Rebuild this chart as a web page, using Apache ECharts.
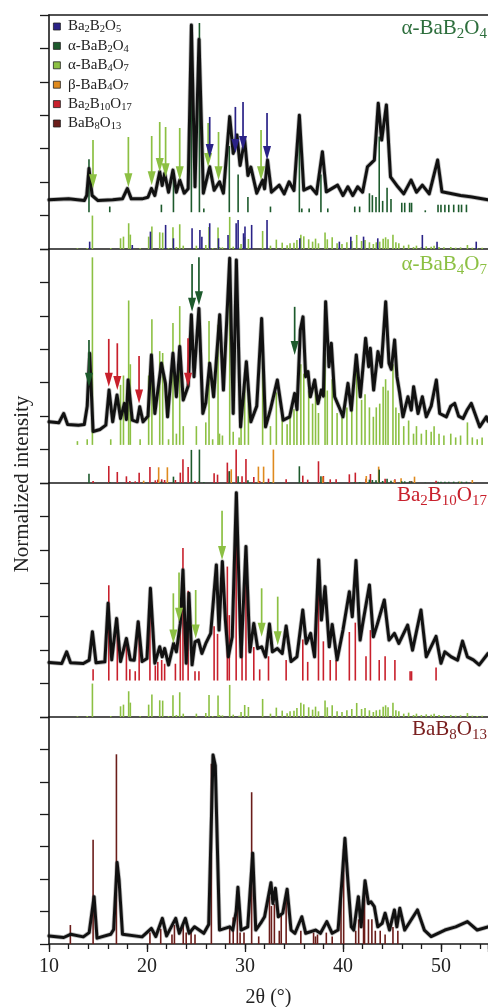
<!DOCTYPE html>
<html>
<head>
<meta charset="utf-8">
<script src="https://cdn.jsdelivr.net/npm/echarts@6.0.0/dist/echarts.min.js"></script>
<style>
  html, body { margin: 0; padding: 0; background: #fff; }
  #chart { width: 488px; height: 1007px; }
</style>
</head>
<body>
<div id="chart"></div>
<script>
// measured patterns, [2theta, intensity] on a 0..7 panel scale
const pattern1 = [[10,1.47],[12.0,1.5],[13.6,1.45],[13.85,1.6],[14.08,2.41],[14.4,1.6],[15.0,1.45],[16.5,1.47],[17.5,1.5],[18.0,1.81],[18.4,1.5],[19.5,1.5],[20.1,1.55],[20.45,1.81],[20.8,1.6],[21.3,2.31],[21.55,1.9],[21.8,2.26],[22.2,1.7],[22.65,2.36],[23.0,1.7],[23.35,2.06],[23.8,1.67],[24.2,1.8],[24.53,6.7],[24.9,1.86],[25.31,6.27],[25.75,1.67],[26.4,2.46],[26.85,1.76],[27.4,2.01],[27.8,1.67],[28.44,3.96],[28.8,2.86],[29.18,3.41],[29.5,2.5],[29.97,3.26],[30.3,2.2],[30.6,2.45],[31.2,1.67],[31.8,2.06],[32.0,1.8],[32.3,2.66],[32.7,1.7],[33.5,1.91],[34.0,1.65],[34.5,2.01],[35.0,1.75],[35.55,4.0],[36.0,1.76],[36.7,1.86],[37.3,1.65],[37.9,2.91],[38.3,1.71],[39.45,1.91],[40.0,1.6],[40.5,1.86],[41.0,1.6],[41.5,1.86],[42.0,1.7],[42.5,2.46],[43.2,2.66],[43.6,4.36],[43.95,3.26],[44.43,4.31],[44.85,2.16],[45.6,1.86],[46.2,1.65],[46.95,2.06],[47.5,1.7],[48.1,1.91],[48.8,1.65],[49.66,2.66],[50.1,1.71],[51.0,1.66],[52.0,1.6],[53.0,1.56],[54.8,1.47]];
const pattern2 = [[10,1.83],[11.0,1.8],[11.5,2.08],[11.9,1.75],[13.0,1.73],[13.6,1.75],[13.9,2.3],[14.15,3.88],[14.5,1.54],[15.2,1.6],[15.8,1.73],[16.13,2.78],[16.5,1.83],[16.94,2.63],[17.3,1.93],[17.7,2.38],[17.9,1.9],[18.07,3.08],[18.5,1.88],[19.0,1.83],[19.26,2.28],[19.6,1.83],[20.1,2.0],[20.45,3.83],[20.8,2.08],[21.47,3.58],[21.88,2.98],[22.1,1.98],[22.65,3.88],[23.0,2.58],[23.34,4.08],[23.7,2.48],[24.2,2.9],[24.53,5.03],[24.8,3.18],[25.3,5.22],[25.7,2.08],[26.0,2.4],[26.4,3.58],[26.8,2.58],[27.42,5.03],[27.8,2.78],[28.44,6.72],[28.8,2.08],[29.12,6.67],[29.55,1.68],[30.14,3.63],[30.6,1.83],[31.2,2.3],[31.7,4.92],[32.1,1.68],[32.6,2.2],[33.3,3.08],[33.9,1.88],[34.56,1.98],[35.07,2.68],[35.31,2.2],[35.65,4.58],[35.92,4.97],[36.19,3.18],[36.43,3.33],[36.67,2.58],[37.11,3.08],[37.45,2.38],[37.79,2.78],[38.0,2.6],[38.23,5.42],[38.57,3.48],[38.81,4.18],[39.15,2.58],[39.59,2.28],[40.0,1.98],[40.51,2.98],[40.85,2.18],[41.36,3.83],[41.77,2.58],[42.31,4.33],[42.62,3.48],[42.79,4.03],[43.13,2.78],[43.57,3.93],[43.91,3.48],[44.36,5.42],[44.7,3.58],[44.93,3.4],[45.27,4.28],[45.51,3.18],[45.78,2.7],[46.12,1.98],[46.63,2.58],[46.97,2.18],[47.21,2.88],[47.66,2.08],[48.1,2.58],[48.5,1.98],[49.0,2.3],[49.53,3.08],[49.87,2.08],[50.55,1.98],[51.0,2.3],[51.4,2.38],[51.8,2.0],[52.25,1.93],[52.7,2.2],[53.1,2.38],[53.95,1.68],[54.63,1.98],[54.8,1.85]];
const pattern3 = [[10,1.63],[11.3,1.6],[11.8,1.95],[12.2,1.62],[13.5,1.6],[14.1,1.7],[14.43,2.55],[14.8,1.62],[15.7,1.65],[16.03,3.4],[16.4,1.71],[16.9,2.95],[17.3,1.66],[17.9,2.35],[18.3,1.71],[18.7,1.7],[19.1,2.85],[19.5,1.66],[20.0,1.75],[20.35,3.85],[20.8,1.61],[21.3,2.1],[21.55,1.8],[21.8,2.05],[22.2,1.56],[22.72,2.2],[23.0,1.95],[23.4,2.8],[23.67,4.4],[24.0,1.61],[24.28,3.7],[24.6,1.56],[24.9,2.25],[25.25,2.3],[25.6,1.9],[26.0,2.2],[26.5,2.5],[27.08,4.55],[27.35,2.6],[27.69,4.65],[28.0,2.9],[28.3,1.8],[28.7,2.4],[29.12,6.71],[29.6,1.8],[30.1,5.1],[30.5,1.95],[30.9,2.8],[31.3,2.05],[31.7,2.1],[32.1,1.8],[32.5,2.78],[32.8,1.95],[33.3,2.05],[33.8,1.9],[34.2,2.72],[34.7,1.66],[35.3,1.8],[35.9,3.2],[36.25,2.2],[36.7,2.5],[37.1,1.8],[37.52,4.7],[37.8,2.9],[38.17,3.9],[38.6,2.1],[38.9,2.77],[39.4,1.71],[40.0,2.6],[40.65,3.75],[40.95,3.0],[41.33,4.68],[41.75,2.3],[42.0,2.77],[42.7,3.95],[43.1,2.4],[43.5,2.77],[44.22,3.5],[44.7,2.3],[45.25,2.5],[45.7,2.2],[46.6,2.75],[47.1,2.0],[47.96,3.2],[48.5,1.8],[49.5,2.41],[50.0,1.61],[50.4,1.95],[51.05,1.8],[51.7,1.7],[52.2,2.27],[52.7,1.8],[53.3,1.71],[53.9,1.56],[54.8,1.9]];
const pattern4 = [[10,0.25],[11.5,0.2],[12.2,0.3],[13.5,0.22],[14.1,0.35],[14.6,1.46],[14.9,0.18],[16.3,0.3],[16.6,0.45],[16.95,2.51],[17.15,1.97],[17.5,0.3],[19.5,0.22],[20.45,0.48],[20.9,0.23],[21.57,0.79],[22.0,0.25],[22.93,0.79],[23.3,0.33],[23.92,0.79],[24.3,0.33],[24.85,0.53],[25.8,0.33],[26.3,0.6],[26.74,5.83],[26.97,5.5],[27.4,0.43],[28.44,0.53],[28.75,0.43],[29.1,1.0],[29.28,1.75],[29.6,0.43],[30.28,0.53],[30.79,2.8],[31.1,0.43],[31.6,0.64],[32.0,0.84],[32.65,1.89],[32.85,1.25],[33.1,1.72],[33.4,0.84],[33.85,0.95],[34.05,0.95],[34.3,1.69],[34.7,0.43],[35.1,0.33],[35.8,0.84],[36.2,0.33],[37.2,0.43],[37.7,0.33],[38.35,0.69],[38.9,0.33],[39.5,0.43],[39.9,1.97],[40.2,3.26],[40.5,1.95],[40.85,0.53],[41.1,0.43],[41.57,1.46],[41.85,0.53],[42.25,1.95],[42.6,1.25],[42.86,1.3],[43.2,1.15],[43.55,0.53],[44.0,0.64],[44.3,0.95],[44.75,0.43],[45.25,1.05],[45.5,0.53],[45.8,1.1],[46.3,0.43],[46.95,0.74],[47.6,1.05],[48.3,0.43],[49.0,0.23],[49.7,0.33],[50.4,0.43],[51.5,0.53],[52.7,0.69],[53.7,0.43],[54.8,0.53]];

// reference sticks, [2theta, relative intensity %]
const ba2b2o5Ref = [[14.15,22],[18.5,12],[20.35,52],[21.9,72],[22.7,32],[24.6,62],[25.4,57],[25.6,37],[26.4,77],[27.3,32],[28.27,42],[29.1,77],[29.3,87],[29.85,47],[30.0,67],[30.68,72],[32.25,87],[35.6,32],[39.63,22],[40.8,37],[42.1,37],[43.55,32],[48.1,42],[49.6,22],[53.6,22]];
const aBaB2O4Ref = [[14.08,28],[16.2,3],[21.47,4],[22.7,19],[24.53,99],[25.35,100],[25.8,2],[28.4,35],[29.3,20],[30.3,8],[32.6,3],[35.55,50],[35.8,2],[36.55,2],[37.75,20],[38.45,2],[41.2,3],[41.7,3],[42.7,10],[43.0,9],[43.37,8],[43.7,40],[44.05,6],[44.5,13],[44.9,7],[46.0,5],[46.3,5],[46.8,5],[47.0,5],[48.4,1],[49.7,4],[50.0,4],[50.4,4],[50.8,4],[51.3,4],[51.8,4],[52.1,4],[52.6,4]];
const aBaB4O7Ref = [[12.9,2],[13.9,3],[14.43,100],[16.3,3],[17.3,32],[17.6,37],[18.13,77],[18.3,43],[19.3,3],[20.17,37],[20.5,67],[21.3,50],[21.6,49],[22.2,3],[22.65,65],[23.0,6],[23.34,74],[23.7,10],[25.04,10],[26.0,12],[26.33,66],[26.7,3],[27.25,64],[27.4,6],[27.7,5],[28.44,96],[28.8,7],[29.4,4],[29.6,15],[29.97,36],[30.35,30],[31.8,54],[32.6,10],[33.2,28],[33.8,19],[34.3,11],[34.6,17],[35.0,19],[35.3,27],[35.7,43],[36.0,38],[36.5,29],[36.9,22],[37.2,31],[37.5,17],[38.17,49],[38.4,29],[38.9,35],[39.4,17],[39.9,15],[40.4,20],[40.9,24],[41.4,42],[41.9,24],[42.25,27],[42.7,20],[43.1,15],[43.4,20],[43.75,22],[44.1,31],[44.35,35],[44.6,29],[45.1,43],[45.4,20],[45.7,17],[46.2,10],[46.7,13],[47.2,6],[47.5,10],[48.0,6],[48.5,8],[49.0,7],[49.3,10],[49.8,6],[50.3,5],[51.0,6],[51.5,4],[52.0,5],[52.7,12],[53.2,4],[53.7,3],[54.2,4]];
const bBaB4O7Ref = [[19.66,7],[21.19,47],[22.08,47],[28.6,41],[31.37,49],[31.9,49],[32.9,100],[37.93,19],[42.38,21],[43.64,49],[45.25,9],[45.93,14],[47.3,19],[51.9,4],[53.2,9]];
const ba2b10o17Ref = [[14.5,6],[16.1,51],[16.97,33],[17.9,20],[18.25,6],[18.8,5],[19.2,31],[20.3,48],[20.85,8],[21.1,10],[21.5,11],[21.8,9],[22.9,9],[23.4,31],[23.67,71],[24.2,48],[24.9,5],[25.3,5],[26.85,29],[27.2,25],[28.2,61],[28.4,35],[29.1,100],[29.7,20],[30.1,72],[30.9,18],[31.5,6],[32.4,13],[34.2,11],[35.9,22],[36.4,10],[37.5,65],[38.0,21],[38.7,11],[39.3,11],[40.65,26],[41.26,31],[42.35,13],[42.8,27],[43.7,11],[44.3,13],[45.3,11],[46.85,5],[47.0,5],[49.5,7]];
const bab8o13Ref = [[12.18,10],[14.5,55],[16.88,100],[20.3,6],[21.4,8],[22.55,5],[22.8,10],[23.7,10],[24.0,6],[24.5,7],[24.9,5],[26.57,95],[28.44,9],[28.8,14],[29.22,28],[29.5,6],[29.9,6],[30.68,80],[31.4,4],[32.5,25],[32.7,20],[33.0,21],[33.5,7],[33.7,16],[34.2,25],[35.7,7],[37.0,6],[37.2,4],[37.4,5],[38.3,6],[38.9,4],[39.8,30],[40.07,50],[41.3,7],[41.6,13],[42.1,24],[42.2,29],[42.6,13],[42.95,13],[43.3,7],[43.8,7],[44.3,5],[45.1,9],[45.6,7]];

// arrows, [2theta, tail, tip]
const arrowsP1Green = [[14.49,3.26,1.82],[18.1,3.35,1.85],[20.48,3.38,1.91],[21.3,3.8,2.3],[21.9,3.65,2.15],[23.34,3.62,2.06],[26.24,3.77,2.45],[27.3,3.5,2.06],[31.64,3.56,2.06]];
const arrowsP1Blue = [[26.4,3.95,2.72],[29.02,4.25,2.87],[29.8,4.4,2.96],[32.25,4.07,2.66]];
const arrowsP2DarkGreen = [[14.08,4.28,2.88],[24.6,6.55,5.12],[25.3,6.75,5.32],[35.07,5.27,3.83]];
const arrowsP2Red = [[16.1,4.31,2.88],[16.97,4.18,2.78],[19.19,3.8,2.38],[24.19,4.33,2.88]];
const arrowsP3Green = [[22.69,3.7,2.2],[23.27,4.32,2.85],[24.97,3.8,2.35],[27.66,6.17,4.7],[31.7,3.85,2.4],[33.34,3.6,2.15]];

const phases = ['Ba2B2O5', 'α-BaB2O4', 'α-BaB4O7', 'β-BaB4O7', 'Ba2B10O17', 'BaB8O13'];
const panelTitles = ['α-BaB2O4', 'α-BaB4O7', 'Ba2B10O17', 'BaB8O13'];

const FONT = 'Liberation Serif';
const colors = {
    'Ba2B2O5': '#2a2287',
    'α-BaB2O4': '#1d5a2c',
    'α-BaB4O7': '#8cc043',
    'β-BaB4O7': '#df8a1e',
    'Ba2B10O17': '#c8202c',
    'BaB8O13': '#6b1d1a'
};
const titleColors = ['#2d6e3c', '#8cc043', '#c8202c', '#7a2020'];
const titleTops = [15, 251, 482, 716];
const gridTops = [15, 249, 483, 717];
const gridHeights = [234, 234, 234, 227];

// chemical formula -> rich text with subscripts
function chem(name, n, s) {
    return name.replace(/(\d+)|(\D+)/g, (m, d, t) => d ? '{' + s + '|' + d + '}' : '{' + n + '|' + t + '}');
}

function sticks(name, ref, gi, base, scale) {
    let color = colors[name];
    return {
        name: name,
        type: 'custom',
        xAxisIndex: gi,
        yAxisIndex: gi,
        z: 2,
        itemStyle: {color: color},
        encode: {x: 0, y: [1, 2]},
        data: ref.map(r => [r[0], base, base + r[1] * scale / 100]),
        renderItem: (params, api) => {
            let p0 = api.coord([api.value(0), api.value(1)]);
            let p1 = api.coord([api.value(0), api.value(2)]);
            return {
                type: 'line',
                shape: {x1: p0[0], y1: p0[1], x2: p1[0], y2: p1[1]},
                style: {stroke: color, lineWidth: 1.6}
            };
        }
    };
}

function arrows(id, list, gi, color) {
    return {
        name: id,
        type: 'custom',
        xAxisIndex: gi,
        yAxisIndex: gi,
        z: 6,
        encode: {x: 0, y: [1, 2]},
        data: list,
        renderItem: (params, api) => {
            let a = api.coord([api.value(0), api.value(1)]);
            let b = api.coord([api.value(0), api.value(2)]);
            return {
                type: 'group',
                children: [
                    {type: 'line', shape: {x1: a[0], y1: a[1], x2: b[0], y2: b[1] - 10}, style: {stroke: color, lineWidth: 1.7}},
                    {type: 'polygon', shape: {points: [[b[0] - 4, b[1] - 14], [b[0] + 4, b[1] - 14], [b[0], b[1]]]}, style: {fill: color}}
                ]
            };
        }
    };
}

// noisy measured trace: soft grey halo under a black core
function curve(id, data, gi) {
    let base = {
        type: 'line',
        xAxisIndex: gi,
        yAxisIndex: gi,
        showSymbol: false,
        silent: true,
        data: data
    };
    return [
        Object.assign({}, base, {name: id + '-halo', z: 3, lineStyle: {color: 'rgba(40,40,40,0.3)', width: 4.6, join: 'round', cap: 'round'}}),
        Object.assign({}, base, {name: id, z: 4, lineStyle: {color: '#111', width: 3, join: 'round', cap: 'round'}})
    ];
}

const axisLine = {show: true, lineStyle: {color: '#1a1a1a', width: 1.6}};

let xAxes = [0, 1, 2, 3].map(i => ({
    gridIndex: i,
    type: 'value',
    min: 10,
    max: 54.8,
    interval: 10,
    axisLine: axisLine,
    axisTick: {show: i === 3, inside: false, length: 8, lineStyle: {color: '#1a1a1a', width: 1.3}},
    axisLabel: {
        show: i === 3,
        margin: 13,
        fontFamily: FONT,
        fontSize: 20,
        color: '#222',
        formatter: v => (v % 10 === 0 ? String(v) : '')
    },
    splitLine: {show: false},
    name: i === 3 ? '2θ (°)' : '',
    nameLocation: 'middle',
    nameGap: 44,
    nameTextStyle: {fontFamily: FONT, fontSize: 20, color: '#222'}
}));
// frame on top of the first panel
xAxes.push({
    gridIndex: 0, type: 'value', position: 'top', min: 10, max: 54.8,
    axisLine: axisLine, axisTick: {show: false}, axisLabel: {show: false}, splitLine: {show: false}
});
// minor ticks every 2 degrees
xAxes.push({
    gridIndex: 3, type: 'value', position: 'bottom', min: 10, max: 54.8, interval: 2,
    axisLine: {show: false},
    axisTick: {show: true, inside: false, length: 5, lineStyle: {color: '#1a1a1a', width: 1.3}},
    axisLabel: {show: false}, splitLine: {show: false}
});

let yAxes = [0, 1, 2, 3].map(i => ({
    gridIndex: i,
    type: 'value',
    min: 0,
    max: 7,
    interval: 1,
    axisLine: axisLine,
    axisTick: {show: true, inside: false, length: 9, lineStyle: {color: '#1a1a1a', width: 1.3}},
    axisLabel: {show: false},
    splitLine: {show: false}
}));

let option = {
    animation: false,
    backgroundColor: '#fff',
    grid: gridTops.map((t, i) => ({left: 49, right: 0, top: t, height: gridHeights[i], outerBoundsMode: 'none', containLabel: false})),
    xAxis: xAxes,
    yAxis: yAxes,
    title: panelTitles.map((t, i) => ({
        text: chem(t, 'n', 's'),
        right: 1,
        top: titleTops[i],
        padding: 0,
        textStyle: {
            fontWeight: 'normal',
            rich: {
                n: {fontFamily: FONT, fontWeight: 'normal', fontSize: 21, lineHeight: 27, color: titleColors[i]},
                s: {fontFamily: FONT, fontWeight: 'normal', fontSize: 15, lineHeight: 12, verticalAlign: 'bottom', color: titleColors[i]}
            }
        }
    })),
    legend: {
        orient: 'vertical',
        left: 53,
        top: 19,
        padding: 0,
        itemWidth: 7,
        itemHeight: 7,
        itemGap: 3.4,
        icon: 'rect',
        selectedMode: false,
        data: phases.map(p => ({name: p, itemStyle: {color: colors[p], borderColor: '#222', borderWidth: 0.8}})),
        formatter: name => '{g| }' + chem(name, 'n', 's'),
        textStyle: {
            rich: {
                g: {fontFamily: FONT, fontSize: 10, lineHeight: 17},
                n: {fontFamily: FONT, fontSize: 15, lineHeight: 17, color: '#222'},
                s: {fontFamily: FONT, fontSize: 10.5, lineHeight: 10, verticalAlign: 'bottom', color: '#222'}
            }
        }
    },
    graphic: [{
        type: 'text',
        x: 22,
        y: 484,
        rotation: Math.PI / 2,
        style: {text: 'Normalized intensity', fontFamily: FONT, fontSize: 21, fill: '#222', align: 'center', verticalAlign: 'middle'}
    }],
    series: [
        // panel 1
        sticks('α-BaB4O7', aBaB4O7Ref, 0, 0, 1),
        sticks('Ba2B2O5', ba2b2o5Ref, 0, 0, 1),
        sticks('α-BaB2O4', aBaB2O4Ref, 0, 1.1, 5.66),
        ...curve('p1', pattern1, 0),
        arrows('a1g', arrowsP1Green, 0, colors['α-BaB4O7']),
        arrows('a1b', arrowsP1Blue, 0, colors['Ba2B2O5']),
        // panel 2
        sticks('α-BaB4O7', aBaB4O7Ref, 1, 1.14, 5.61),
        sticks('Ba2B10O17', ba2b10o17Ref, 1, 0, 1),
        sticks('β-BaB4O7', bBaB4O7Ref, 1, 0, 1),
        sticks('α-BaB2O4', aBaB2O4Ref, 1, 0, 1),
        ...curve('p2', pattern2, 1),
        arrows('a2d', arrowsP2DarkGreen, 1, colors['α-BaB2O4']),
        arrows('a2r', arrowsP2Red, 1, colors['Ba2B10O17']),
        // panel 3
        sticks('Ba2B10O17', ba2b10o17Ref, 2, 1.09, 5.59),
        sticks('α-BaB4O7', aBaB4O7Ref, 2, 0, 1),
        ...curve('p3', pattern3, 2),
        arrows('a3g', arrowsP3Green, 2, colors['α-BaB4O7']),
        // panel 4
        sticks('BaB8O13', bab8o13Ref, 3, 0, 5.85),
        ...curve('p4', pattern4, 3)
    ]
};

let chart = echarts.init(document.getElementById('chart'));
chart.setOption(option);
</script>
</body>
</html>
